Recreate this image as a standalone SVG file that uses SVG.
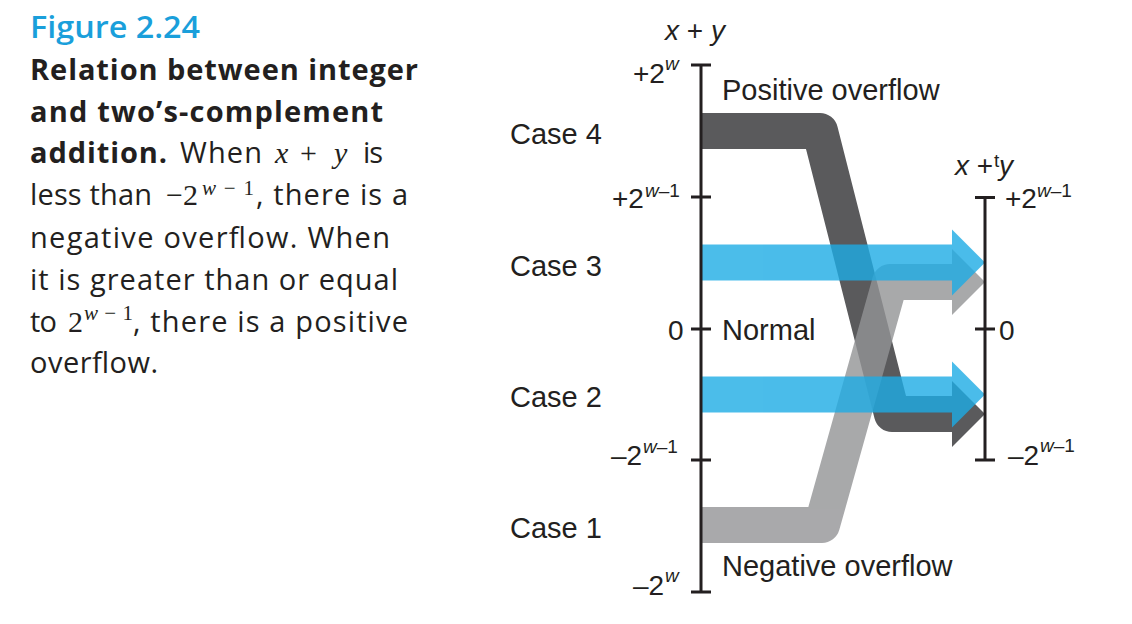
<svg xmlns="http://www.w3.org/2000/svg" width="1132" height="624" viewBox="0 0 1132 624">
<style>
.cap{font-family:"Open Sans","Noto Sans",sans-serif;font-size:29px;fill:#231f20}
.b{font-weight:700}
.m{font-family:"Liberation Serif",serif;font-size:30px;fill:#231f20}
.ms{font-family:"Liberation Serif",serif;font-size:21px;fill:#231f20}
.lbl{font-family:"Liberation Sans",Arial,sans-serif;font-size:29px;fill:#231f20}
.num{font-family:"Liberation Sans",Arial,sans-serif;font-size:28px;fill:#231f20}
.sup{font-family:"Liberation Sans",Arial,sans-serif;font-size:19px;fill:#231f20}
.it{font-style:italic}
.axis{stroke:#231f20;stroke-width:3;fill:none}
.band{fill:none;stroke-width:36;stroke-linejoin:round}
</style>
<rect width="1132" height="624" fill="#ffffff"/>

<!-- Caption -->
<g id="caption">
<text class="cap" x="30" y="38" style="font-size:31px;font-weight:600;fill:#1a9fdb" textLength="170" lengthAdjust="spacingAndGlyphs">Figure 2.24</text>
<text class="cap b" x="30" y="80" textLength="388" lengthAdjust="spacing">Relation between integer</text>
<text class="cap b" x="30" y="122" textLength="353" lengthAdjust="spacing">and two’s-complement</text>
<text class="cap b" x="30" y="163" textLength="137" lengthAdjust="spacing">addition.</text>
<text class="cap" x="180" y="163" textLength="82" lengthAdjust="spacing">When</text>
<text class="m it" x="275" y="163">x</text>
<text class="m" x="300" y="163">+</text>
<text class="m it" x="334" y="163">y</text>
<text class="cap" x="363" y="163" textLength="20" lengthAdjust="spacing">is</text>
<text class="cap" x="30" y="205" textLength="122" lengthAdjust="spacing">less than</text>
<text class="m" x="166" y="205">−2</text>
<text class="ms" x="202" y="195" textLength="52" lengthAdjust="spacing"><tspan class="it">w</tspan>−1</text>
<text class="cap" x="256" y="205" textLength="152" lengthAdjust="spacing">, there is a</text>
<text class="cap" x="30" y="248" textLength="360" lengthAdjust="spacing">negative overflow. When</text>
<text class="cap" x="30" y="290" textLength="368" lengthAdjust="spacing">it is greater than or equal</text>
<text class="cap" x="30" y="332" textLength="27" lengthAdjust="spacing">to</text>
<text class="m" x="68" y="332">2</text>
<text class="ms" x="84" y="320" textLength="49" lengthAdjust="spacing"><tspan class="it">w</tspan>−1</text>
<text class="cap" x="133" y="332" textLength="275" lengthAdjust="spacing">, there is a positive</text>
<text class="cap" x="30" y="373" textLength="128" lengthAdjust="spacing">overflow.</text>
</g>

<!-- Connectors: bands and arrows -->
<g id="connectors">
  <g id="band-case4">
    <path class="band" stroke="#5a5a5c" d="M701,131 H820 L892,414 H953"/>
    <polygon fill="#5a5a5c" points="952,381 985,414 952,447"/>
  </g>
  <g id="band-case1" opacity="0.8">
    <path class="band" stroke="#939496" d="M701,525 H822 L890,282 H953"/>
    <polygon fill="#939496" points="952,249 985,282 952,315"/>
  </g>
  <g id="band-case3" opacity="0.8">
    <rect x="701" y="244.5" width="252" height="36" fill="#1eace5"/>
    <polygon fill="#1eace5" points="952,229.5 985,262.5 952,295.5"/>
  </g>
  <g id="band-case2" opacity="0.8">
    <rect x="701" y="376.5" width="252" height="36" fill="#1eace5"/>
    <polygon fill="#1eace5" points="952,361.5 985,394.5 952,427.5"/>
  </g>
</g>

<!-- Left axis: x + y -->
<g id="axis-left">
  <path class="axis" d="M701,65 V592 M691,65 H711 M691,197 H711 M691,329 H711 M691,460 H711 M691,592 H711"/>
  <text class="num" x="665" y="40"><tspan class="it">x</tspan> + <tspan class="it">y</tspan></text>
  <text class="num" x="633" y="83">+2</text>
  <text class="sup it" x="665" y="70">w</text>
  <text class="num" x="612" y="208">+2</text>
  <text class="sup" x="645" y="197"><tspan class="it">w</tspan>–1</text>
  <text class="num" x="668" y="340">0</text>
  <text class="num" x="611" y="465">–2</text>
  <text class="sup" x="643" y="453"><tspan class="it">w</tspan>–1</text>
  <text class="num" x="633" y="595">–2</text>
  <text class="sup it" x="665" y="582">w</text>
</g>

<!-- Right axis: x +t y -->
<g id="axis-right">
  <path class="axis" d="M985,197.5 V460 M975,197.5 H995 M975,329 H995 M975,460 H995"/>
  <text class="num" x="955" y="175"><tspan class="it">x</tspan> +</text>
  <text class="sup" x="994" y="167">t</text>
  <text class="num it" x="999" y="175">y</text>
  <text class="num" x="1005" y="208">+2</text>
  <text class="sup" x="1037" y="197"><tspan class="it">w</tspan>–1</text>
  <text class="num" x="999" y="340">0</text>
  <text class="num" x="1008" y="465">–2</text>
  <text class="sup" x="1040" y="452"><tspan class="it">w</tspan>–1</text>
</g>

<!-- Region labels -->
<g id="labels">
  <text class="lbl" x="722" y="100">Positive overflow</text>
  <text class="lbl" x="722" y="340">Normal</text>
  <text class="lbl" x="722" y="576">Negative overflow</text>
  <text class="lbl" x="510" y="144">Case 4</text>
  <text class="lbl" x="510" y="276">Case 3</text>
  <text class="lbl" x="510" y="407">Case 2</text>
  <text class="lbl" x="510" y="538">Case 1</text>
</g>
</svg>
